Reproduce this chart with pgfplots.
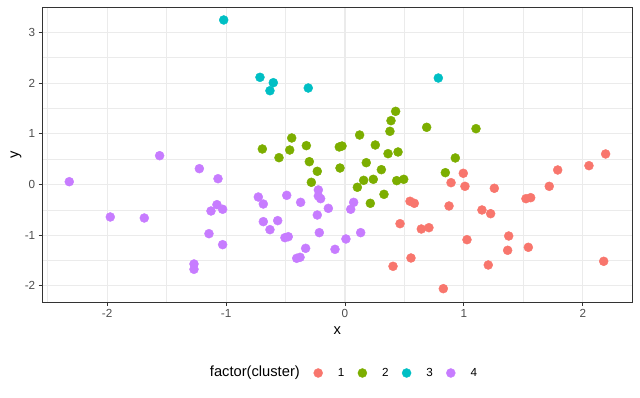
\documentclass[border=0pt]{standalone}
\usepackage{fontspec}
\setmainfont{Liberation Sans}
\usepackage{pgfplots}
\pgfplotsset{compat=1.18}
\definecolor{c1}{HTML}{F8766D}
\definecolor{c2}{HTML}{7CAE00}
\definecolor{c3}{HTML}{00BFC4}
\definecolor{c4}{HTML}{C77CFF}
\definecolor{g92}{HTML}{EBEBEB}
\definecolor{g20}{HTML}{333333}
\definecolor{g30}{HTML}{4D4D4D}

\begin{document}
\begin{tikzpicture}
\begin{axis}[
  name=ax,
  scale only axis, width=589.6bp, height=294.7bp,
  xmin=-2.545, xmax=2.414, ymin=-2.318, ymax=3.495,
  xtick={-2,-1,0,1,2}, xticklabels={-2,-1,0,1,2},
  ytick={-2,-1,0,1,2,3}, yticklabels={-2,-1,0,1,2,3},
  minor xtick={-2.5,-1.5,-0.5,0.5,1.5},
  minor ytick={-1.5,-0.5,0.5,1.5,2.5},
  tick pos=left,
  grid=both,
  major grid style={g92, line width=1.1bp},
  minor grid style={g92, line width=0.55bp},
  axis line style={g20, line width=0.9bp},
  tick align=outside, major tick length=3.7bp, minor tick length=0pt,
  tick style={g20, line width=0.9bp},
  tick label style={font=\fontsize{11.7bp}{14bp}\selectfont, text=g30},
  xlabel={x}, ylabel={y},
  label style={font=\fontsize{14.7bp}{17bp}\selectfont},
  x label style={at={(axis description cs:0.5,-0.0984)}, anchor=center},
  y label style={at={(axis description cs:-0.0448,0.5)}, anchor=center},
  legend image code/.code={\draw[#1,only marks] plot coordinates {(0bp,0bp)};},
  legend columns=-1,
  legend style={at={(axis description cs:0.4598,-0.2409)}, anchor=west,
    draw=none, fill=none, inner sep=0pt,
    nodes={inner sep=0pt, font=\fontsize{11.7bp}{14bp}\selectfont},
    /tikz/every even column/.append style={column sep=13.5bp},
    /tikz/every odd column/.append style={column sep=15.2bp}},
]
\addplot[only marks, mark=*, mark size=4.5bp, color=c1, mark options={draw=c1, fill=c1}] coordinates {
(0.995,0.221) (0.892,0.036) (1.009,-0.036) (1.256,-0.075) (0.547,-0.331)
(0.583,-0.371) (0.875,-0.424) (1.152,-0.503) (1.225,-0.576) (0.463,-0.773)
(0.642,-0.878) (0.706,-0.852) (1.026,-1.089) (0.555,-1.450) (0.404,-1.614)
(1.205,-1.588) (0.827,-2.055) (2.192,0.602) (2.052,0.371) (1.789,0.286)
(1.718,-0.036) (1.522,-0.280) (1.562,-0.260) (1.377,-1.016) (1.368,-1.298)
(1.542,-1.239) (2.176,-1.515)
};
\addlegendentry{1}
\addplot[only marks, mark=*, mark size=4.5bp, color=c2, mark options={draw=c2, fill=c2}] coordinates {
(0.426,1.443) (0.387,1.259) (0.378,1.049) (0.123,0.976) (0.255,0.779)
(0.362,0.608) (0.446,0.641) (0.179,0.430) (0.306,0.292) (0.238,0.102)
(0.157,0.082) (0.104,-0.055) (0.435,0.076) (0.494,0.102) (0.328,-0.194)
(-0.048,0.740) (-0.025,0.759) (-0.042,0.325) (-0.325,0.766) (-0.300,0.450)
(-0.233,0.260) (-0.283,0.043) (-0.448,0.917) (-0.465,0.680) (-0.555,0.529)
(-0.695,0.700) (0.687,1.128) (1.102,1.101) (0.928,0.523) (0.844,0.233)
(0.213,-0.371)
};
\addlegendentry{2}
\addplot[only marks, mark=*, mark size=4.5bp, color=c3, mark options={draw=c3, fill=c3}] coordinates {
(-1.020,3.245) (-0.715,2.114) (-0.603,2.008) (-0.631,1.850) (-0.309,1.903)
(0.785,2.100)
};
\addlegendentry{3}
\addplot[only marks, mark=*, mark size=4.5bp, color=c4, mark options={draw=c4, fill=c4}] coordinates {
(-2.319,0.055) (-1.559,0.568) (-1.225,0.312) (-1.068,0.114) (-1.974,-0.641)
(-1.688,-0.661) (-1.127,-0.523) (-1.077,-0.398) (-1.029,-0.489) (-1.144,-0.970)
(-1.029,-1.187) (-1.270,-1.568) (-1.270,-1.673) (-0.729,-0.247) (-0.687,-0.385)
(-0.490,-0.214) (-0.373,-0.352) (-0.224,-0.108) (-0.224,-0.227) (-0.205,-0.280)
(-0.140,-0.470) (-0.233,-0.602) (-0.687,-0.733) (-0.566,-0.713) (-0.631,-0.891)
(-0.505,-1.049) (-0.477,-1.030) (-0.216,-0.950) (-0.331,-1.259) (-0.406,-1.456)
(-0.378,-1.436) (-0.084,-1.279) (0.008,-1.075) (0.132,-0.950) (0.073,-0.352)
(0.048,-0.489)
};
\addlegendentry{4}
\end{axis}
\node[anchor=east, font=\fontsize{14.7bp}{17bp}\selectfont, inner sep=0pt] at ([shift={(257.6bp,-71bp)}]ax.south west) {factor(cluster)};
\pgfresetboundingbox
\path[use as bounding box] (-42.4bp,-96bp) rectangle (597.6bp,302bp);
\end{tikzpicture}
\end{document}
